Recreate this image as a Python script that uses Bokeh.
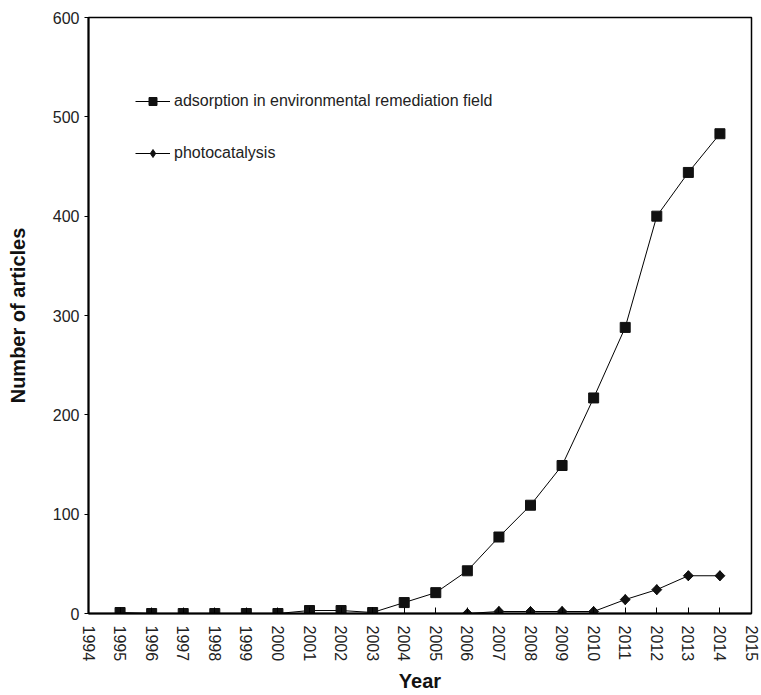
import math
from bokeh.plotting import figure
from bokeh.models import Range1d, FixedTicker, Legend, LegendItem
from bokeh.embed import file_html
from bokeh.resources import INLINE

years = list(range(1995, 2015))
adsorption = [1, 0, 0, 0, 0, 0, 3, 3, 1, 11, 21, 43, 77, 109, 149, 217, 288, 400, 444, 483]
photo_years = list(range(2006, 2015))
photocatalysis = [0, 2, 2, 2, 2, 14, 24, 38, 38]
x_ticks = list(range(1994, 2016))
y_ticks = [0, 100, 200, 300, 400, 500, 600]

FONT = "Liberation Sans"

p = figure(frame_width=663, frame_height=596, output_backend="svg", toolbar_location=None,
           x_range=Range1d(1994, 2015), y_range=Range1d(0, 600),
           min_border_left=88, min_border_right=10, min_border_top=17, min_border_bottom=0)
p.xgrid.visible = False
p.ygrid.visible = False
p.outline_line_color = "black"
p.outline_line_width = 1.5
p.background_fill_color = "white"
p.border_fill_color = "white"

r1l = p.line(years, adsorption, line_color="black", line_width=1)
r1m = p.scatter(years, adsorption, marker="square", size=10, fill_color="#111111", line_color="#111111")
r2l = p.line(photo_years, photocatalysis, line_color="black", line_width=1)
# diamond glyph (used by the legend), drawn underneath the rotated squares
r2d = p.scatter(photo_years, photocatalysis, marker="diamond", size=10,
                fill_color="#111111", line_color="#111111")
r2m = p.scatter(photo_years, photocatalysis, marker="square", angle=math.pi / 4, size=7,
                fill_color="#111111", line_color="#111111")

xa = p.xaxis[0]
xa.ticker = FixedTicker(ticks=x_ticks)
xa.major_label_orientation = -math.pi / 2
xa.major_tick_in = 6
xa.major_tick_out = 0
xa.minor_tick_line_color = None
xa.axis_line_width = 2
xa.major_label_standoff = 12
xa.major_label_text_font = FONT
xa.major_label_text_font_size = "16px"
xa.major_label_text_color = "#222222"
xa.axis_label = "Year"
xa.axis_label_text_font = FONT
xa.axis_label_text_font_size = "20px"
xa.axis_label_text_font_style = "bold"
xa.axis_label_text_color = "#111111"
xa.axis_label_standoff = 6

ya = p.yaxis[0]
ya.ticker = FixedTicker(ticks=y_ticks)
ya.major_tick_in = 0
ya.major_tick_out = 4
ya.minor_tick_line_color = None
ya.axis_line_width = 2
ya.major_label_standoff = 5
ya.major_label_text_font = FONT
ya.major_label_text_font_size = "16px"
ya.major_label_text_color = "#222222"
ya.axis_label = "Number of articles"
ya.axis_label_text_font = FONT
ya.axis_label_text_font_size = "20px"
ya.axis_label_text_font_style = "bold"
ya.axis_label_text_color = "#111111"
ya.axis_label_standoff = 21

legend = Legend(items=[
    LegendItem(label="adsorption in environmental remediation field", renderers=[r1l, r1m]),
    LegendItem(label="photocatalysis", renderers=[r2l, r2d]),
], location=(47, 450))
legend.padding = 0
legend.margin = 0
legend.spacing = 32
legend.glyph_width = 35
legend.glyph_height = 20
legend.label_height = 20
legend.label_standoff = 4
legend.label_text_font = FONT
legend.label_text_font_size = "16px"
legend.label_text_color = "#222222"
legend.border_line_alpha = 0
legend.background_fill_alpha = 0
p.add_layout(legend)

open("out.html", "w").write(file_html(p, INLINE))
